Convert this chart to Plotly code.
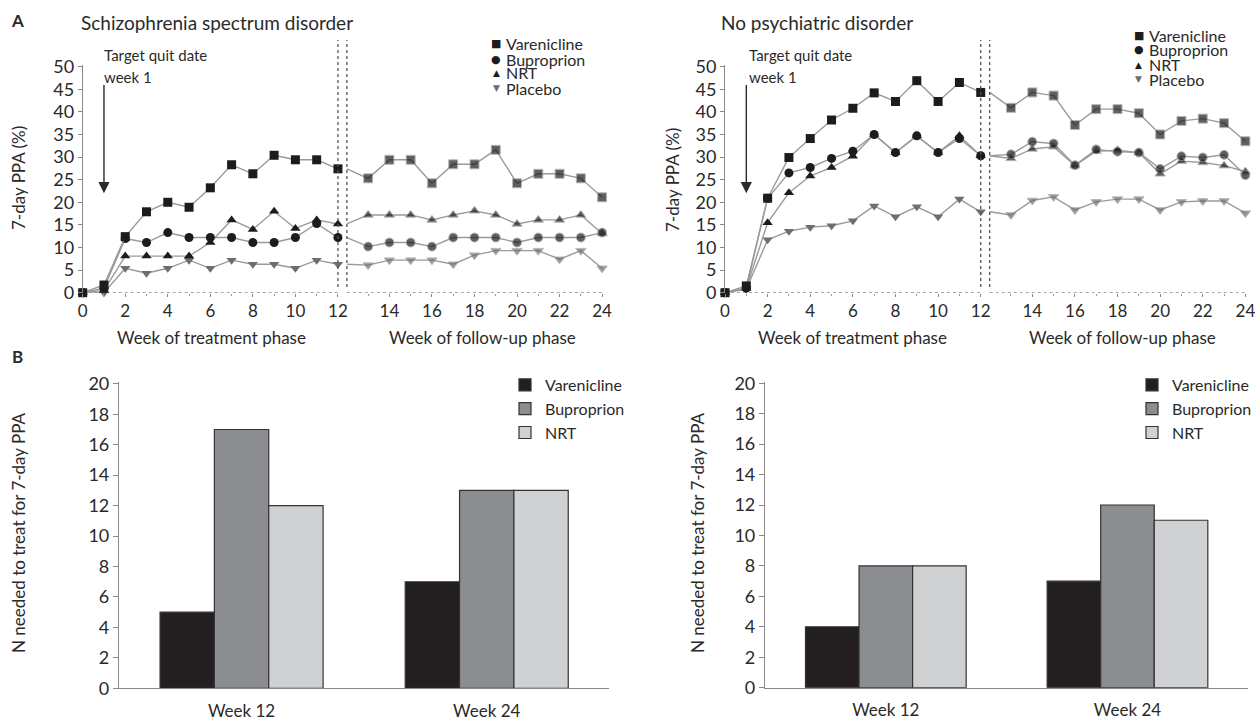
import plotly.graph_objects as go

W, H = 1255, 720
FONT = "Lato"
TXT = "#2a2a2a"

# ---------------- data ----------------
weeks = list(range(0, 25))
series_names = ["Varenicline", "Buproprion", "NRT", "Placebo"]

# Schizophrenia spectrum disorder, 7-day PPA (%)
sz_varenicline = [0, 1.7, 12.4, 17.9, 20.0, 18.9, 23.2, 28.3, 26.3, 30.4, 29.4, 29.4, 27.4,
                  25.3, 29.4, 29.4, 24.2, 28.4, 28.4, 31.6, 24.2, 26.3, 26.3, 25.3, 21.1]
sz_buproprion = [0, 1.0, 12.0, 11.1, 13.3, 12.2, 12.2, 12.2, 11.1, 11.1, 12.2, 15.3, 12.2,
                 10.2, 11.1, 11.1, 10.2, 12.2, 12.2, 12.2, 11.1, 12.2, 12.2, 12.2, 13.3]
sz_nrt = [0, 0.5, 8.1, 8.1, 8.1, 8.1, 11.1, 16.1, 14.0, 18.0, 14.2, 16.1, 15.2,
          17.2, 17.2, 17.2, 16.1, 17.2, 18.1, 17.2, 15.2, 16.1, 16.1, 17.2, 13.1]
sz_placebo = [0, 0.0, 5.4, 4.3, 5.4, 7.2, 5.4, 7.2, 6.3, 6.3, 5.4, 7.2, 6.3,
              6.1, 7.2, 7.2, 7.2, 6.3, 8.3, 9.3, 9.3, 9.3, 7.4, 9.3, 5.4]

# No psychiatric disorder, 7-day PPA (%)
np_varenicline = [0, 1.5, 20.9, 29.9, 34.1, 38.2, 40.8, 44.2, 42.3, 46.9, 42.3, 46.5, 44.3,
                  40.9, 44.3, 43.6, 37.1, 40.6, 40.6, 39.7, 35.0, 38.0, 38.5, 37.5, 33.5]
np_buproprion = [0, 1.0, 20.9, 26.5, 27.7, 29.7, 31.3, 35.0, 31.0, 34.7, 31.0, 34.1, 30.3,
                 30.6, 33.4, 33.0, 28.2, 31.7, 31.2, 31.0, 27.4, 30.2, 29.9, 30.5, 26.0]
np_nrt = [0, 1.0, 15.5, 22.1, 25.8, 27.7, 30.2, 35.0, 31.0, 34.7, 31.0, 34.7, 30.3,
          29.7, 31.8, 32.3, 28.1, 31.3, 31.5, 31.0, 26.3, 29.1, 28.8, 28.1, 26.8]
np_placebo = [0, 0.8, 11.7, 13.6, 14.5, 14.8, 15.9, 19.2, 16.8, 19.0, 16.8, 20.7, 17.9,
              17.2, 20.4, 21.2, 18.3, 20.1, 20.7, 20.7, 18.3, 20.1, 20.3, 20.3, 17.6]

# Number needed to treat for 7-day PPA
bar_categories = ["Week 12", "Week 24"]
bar_names = ["Varenicline", "Buproprion", "NRT"]
nnt_schizo = {"Varenicline": [5, 7], "Buproprion": [17, 13], "NRT": [12, 13]}
nnt_nopsych = {"Varenicline": [4, 7], "Buproprion": [8, 12], "NRT": [8, 11]}

y_ticks_top = list(range(0, 51, 5))
x_tick_weeks = list(range(0, 25, 2))

# ---------------- styles ----------------
GAP = 0.42           # horizontal break between treatment and follow-up phase
QUIT_WEEK = 1
marker_style = {
    "Varenicline": dict(symbol="square", size=9, color="#1c1c1c"),
    "Buproprion": dict(symbol="circle", size=9, color="#1c1c1c"),
    "NRT": dict(symbol="triangle-up", size=9, color="#1c1c1c"),
    "Placebo": dict(symbol="triangle-down", size=9, color="#6e6e6e"),
}
legend_glyph = {"Varenicline": "■", "Buproprion": "●", "NRT": "▲", "Placebo": "▼"}
bar_colors = {"Varenicline": "#231f20", "Buproprion": "#8c8d91", "NRT": "#d0d1d3"}
LINE_COLOR = "#9a9a9a"


def px(x):
    return x / W


def py(y):
    return 1 - y / H


def shifted(w):
    return w + GAP if w > 12 else w


fig = go.Figure()

panels = [
    ("x", "y", {"Varenicline": sz_varenicline, "Buproprion": sz_buproprion,
                "NRT": sz_nrt, "Placebo": sz_placebo}),
    ("x2", "y2", {"Varenicline": np_varenicline, "Buproprion": np_buproprion,
                  "NRT": np_nrt, "Placebo": np_placebo}),
]

for xa, ya, data in panels:
    for name in reversed(series_names):
        vals = data[name]
        ms = marker_style[name]
        # treatment phase (weeks 0-12)
        fig.add_trace(go.Scatter(
            x=weeks[:13], y=vals[:13], mode="lines+markers", name=name,
            xaxis=xa, yaxis=ya, showlegend=False, cliponaxis=False,
            line=dict(color=LINE_COLOR, width=1.4),
            marker=dict(symbol=ms["symbol"], size=ms["size"], color=ms["color"]),
        ))
        # follow-up phase (weeks 12-24, starting after the break)
        fu_x = [12 + GAP] + [shifted(w) for w in weeks[13:]]
        fig.add_trace(go.Scatter(
            x=fu_x, y=vals[12:], mode="lines+markers", name=name,
            xaxis=xa, yaxis=ya, showlegend=False, cliponaxis=False,
            line=dict(color=LINE_COLOR, width=1.4),
            marker=dict(symbol=ms["symbol"], size=[0] + [ms["size"]] * 12, color=ms["color"]),
        ))

for xa, ya, legname, data in [("x3", "y3", "legend", nnt_schizo), ("x4", "y4", "legend2", nnt_nopsych)]:
    for name in bar_names:
        fig.add_trace(go.Bar(
            x=bar_categories, y=data[name], name=name, xaxis=xa, yaxis=ya,
            legend=legname, showlegend=True,
            marker=dict(color=bar_colors[name], line=dict(color="#333333", width=1.2)),
        ))

# ---------------- axes ----------------
top_y_dom = [py(292.7), py(65.3)]
x_range_top = [0, 24.55]
tickvals_top = [shifted(w) for w in x_tick_weeks]
ticktext_top = [str(w) for w in x_tick_weeks]
minor_vals = [shifted(w) for w in weeks if w % 2 == 1]

common_x_top = dict(
    range=x_range_top, tickmode="array", tickvals=tickvals_top, ticktext=ticktext_top,
    showline=False, showgrid=False, zeroline=False, ticks="outside", ticklen=3,
    tickcolor="#888", tickfont=dict(family=FONT, size=17, color=TXT),
    ticklabeloverflow="allow",
    minor=dict(tickmode="array", tickvals=minor_vals, ticks="outside", ticklen=2, tickcolor="#999"),
)
common_y_top = dict(
    range=[0, 50.3], tickmode="array", tickvals=y_ticks_top, showline=True, linecolor="#888",
    linewidth=1, ticks="outside", ticklen=4, tickcolor="#888", showgrid=False, zeroline=False,
    tickfont=dict(family=FONT, size=18, color=TXT),
)
common_x_bot = dict(
    showline=True, linecolor="#888", linewidth=1.2, ticks="", showgrid=False, zeroline=False,
    tickfont=dict(family=FONT, size=17, color=TXT), ticklabelstandoff=7,
)
common_y_bot = dict(
    range=[0, 20.1], dtick=2, tick0=0, showline=True, linecolor="#888", linewidth=1.2,
    ticks="outside", ticklen=5, tickcolor="#888", showgrid=False, zeroline=False,
    tickfont=dict(family=FONT, size=18, color=TXT),
)

fig.update_layout(
    xaxis=dict(domain=[px(82.7), px(82.7 + 24.55 * 21.27)], anchor="y", **common_x_top),
    yaxis=dict(domain=top_y_dom, anchor="x", **common_y_top),
    xaxis2=dict(domain=[px(725), px(725 + 24.55 * 21.31)], anchor="y2", **common_x_top),
    yaxis2=dict(domain=top_y_dom, anchor="x2", **common_y_top),
    xaxis3=dict(domain=[px(119), px(609.3)], anchor="y3", **common_x_bot),
    yaxis3=dict(domain=[py(688.3), py(382.3)], anchor="x3", **common_y_bot),
    xaxis4=dict(domain=[px(765), px(1248.3)], anchor="y4", **common_x_bot),
    yaxis4=dict(domain=[py(687.7), py(381.7)], anchor="x4", **common_y_bot),
)

# ---------------- shapes: broken x axis line + phase dividers ----------------
shapes = []
for xr, yr in [("x", "y"), ("x2", "y2")]:
    for x0, x1 in [(0, 12.0), (12 + GAP, 24 + GAP + 0.05)]:
        shapes.append(dict(type="line", xref=xr, yref=yr, x0=x0, x1=x1, y0=0, y1=0,
                           line=dict(color="#8a8a8a", width=1.2, dash="dot"), layer="below"))
    for xv in [12.0, 12 + GAP]:
        shapes.append(dict(type="line", xref=xr, yref="paper", x0=xv, x1=xv,
                           y0=py(287), y1=py(40),
                           line=dict(color="#555555", width=1.3, dash="dot")))
fig.update_layout(shapes=shapes)

# ---------------- annotations ----------------
ann = []


def text(x, y, s, size=16, xanchor="center", yanchor="middle", angle=0, color=TXT):
    ann.append(dict(x=px(x), y=py(y), xref="paper", yref="paper", text=s, showarrow=False,
                    xanchor=xanchor, yanchor=yanchor, textangle=angle,
                    font=dict(family=FONT, size=size, color=color)))


text(17, 20, "<b>A</b>", size=17)
text(17, 356, "<b>B</b>", size=17)
text(79, 22, "Schizophrenia spectrum disorder", size=19, xanchor="left")
text(719, 22, "No psychiatric disorder", size=19, xanchor="left")

for x0 in [101.5, 747.3]:
    text(x0, 55, "Target quit date", size=15, xanchor="left")
    text(x0, 77, "week 1", size=15, xanchor="left")

for xr, yr in [("x", "y"), ("x2", "y2")]:
    ann.append(dict(x=QUIT_WEEK, y=22, xref=xr, yref=yr, ax=QUIT_WEEK, ay=46.3,
                    axref=xr, ayref=yr, text="", showarrow=True, arrowhead=2,
                    arrowsize=1.6, arrowwidth=1.4, arrowcolor="#2a2a2a"))

text(18, 178, "7-day PPA (%)", size=17, angle=-90)
text(672, 180, "7-day PPA (%)", size=17, angle=-90)
text(18, 533, "N needed to treat for 7-day PPA", size=17, angle=-90)
text(697, 533, "N needed to treat for 7-day PPA", size=17, angle=-90)

text(211, 337, "Week of treatment phase", size=17)
text(482, 337, "Week of follow-up phase", size=17)
text(852, 337, "Week of treatment phase", size=17)
text(1122, 337, "Week of follow-up phase", size=17)

# top-panel legends (compact marker + label rows)
for sym_x, txt_x, rows in [(496, 504, [43.3, 59, 72.7, 88.3]), (1138.5, 1147, [35, 50, 64.5, 79.3])]:
    for name, yc in zip(series_names, rows):
        gsize = 11 if name in ("Varenicline", "Buproprion") else 9
        ann.append(dict(x=px(sym_x), y=py(yc), xref="paper", yref="paper",
                        text=legend_glyph[name], showarrow=False, xanchor="center", yanchor="middle",
                        font=dict(family="DejaVu Sans", size=gsize, color=marker_style[name]["color"])))
        text(txt_x, yc, name, size=16, xanchor="left")

fig.update_layout(annotations=ann)

legend_common = dict(
    xanchor="left", yanchor="top", bgcolor="rgba(0,0,0,0)", borderwidth=0,
    font=dict(family=FONT, size=16, color=TXT), tracegroupgap=0, itemclick=False,
)
fig.update_layout(
    legend=dict(x=px(505), y=py(368), **legend_common),
    legend2=dict(x=px(1132), y=py(368), **legend_common),
)

fig.update_layout(
    width=W, height=H, margin=dict(l=0, r=0, t=0, b=0, autoexpand=False),
    paper_bgcolor="white", plot_bgcolor="white",
    barmode="group", bargap=0.335, bargroupgap=0,
    font=dict(family=FONT, color=TXT),
)

fig.write_html(
    "out.html",
    config={"displayModeBar": False},
    post_script="document.body.style.margin='0';document.body.style.overflow='hidden';",
)
